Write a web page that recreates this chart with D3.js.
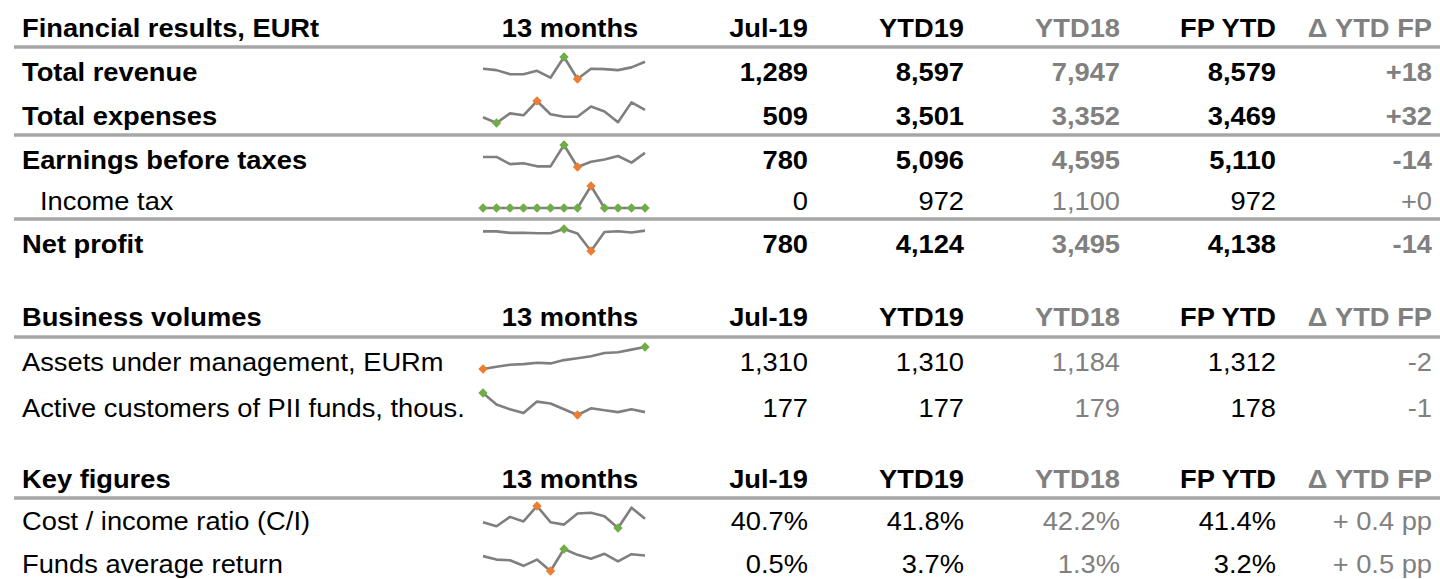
<!DOCTYPE html>
<html>
<head>
<meta charset="utf-8">
<script src="https://cdn.jsdelivr.net/npm/d3@7"></script>
<style>
  body { margin: 0; background: #fff; }
  svg text { font-family: "Liberation Sans", Arial, sans-serif; }
</style>
</head>
<body>
<div id="chart"></div>
<script>
// ===== data =====
var months = ["Jul-18","Aug-18","Sep-18","Oct-18","Nov-18","Dec-18","Jan-19","Feb-19","Mar-19","Apr-19","May-19","Jun-19","Jul-19"]

var sectionTitles = ["Financial results, EURt", "Business volumes", "Key figures"]
var columnHeads = ["Jul-19", "YTD19", "YTD18", "FP YTD", "\u0394 YTD FP"]
var sparkHead = "13 months"

var rowLabels = ["Total revenue", "Total expenses", "Earnings before taxes", "Income tax", "Net profit",
                 "Assets under management, EURm", "Active customers of PII funds, thous.",
                 "Cost / income ratio (C/I)", "Funds average return"]
var rowSection = [0, 0, 0, 0, 0, 1, 1, 2, 2]
var rowKind = ["total", "total", "total", "sub", "total", "item", "item", "item", "item"]
var rowUnit = ["num", "num", "num", "num", "num", "num", "num", "pct", "pct"]
var higherIsBetter = [true, false, true, false, true, true, true, false, true]

var jul19 = [1289, 509, 780, 0, 780, 1310, 177, 40.7, 0.5]
var ytd19 = [8597, 3501, 5096, 972, 4124, 1310, 177, 41.8, 3.7]
var ytd18 = [7947, 3352, 4595, 1100, 3495, 1184, 179, 42.2, 1.3]
var fpYtd = [8579, 3469, 5110, 972, 4138, 1312, 178, 41.4, 3.2]
var deltaFp = [18, 32, -14, 0, -14, -2, -1, 0.4, 0.5]

// 13 months, Jul-18 .. Jul-19
var revenueM  = [1216, 1201, 1158, 1158, 1194, 1121, 1340, 1107, 1216, 1212, 1201, 1230, 1289]
var expensesM = [482, 461, 496, 489, 541, 493, 484, 484, 521, 503, 464, 536, 509]
var ebtM      = [737, 737, 661, 671, 638, 638, 863, 631, 687, 710, 747, 677, 780]
var taxM      = [0, 0, 0, 0, 0, 0, 0, 0, 972, 0, 0, 0, 0]
var netM      = [737, 737, 661, 671, 638, 638, 863, 631, -285, 710, 747, 677, 780]
var aumM      = [1184, 1197, 1208, 1212, 1220, 1216, 1235, 1246, 1257, 1276, 1280, 1295, 1310]
var custM     = [179.0, 177.8, 177.3, 176.9, 178.1, 177.9, 177.3, 176.7, 177.4, 177.2, 177.0, 177.3, 177.0]
var ciM       = [39.3, 37.6, 41.5, 39.6, 46.0, 39.3, 38.3, 42.9, 43.2, 41.8, 36.9, 45.3, 40.7]
var returnM   = [0.45, 0.18, 0.13, -0.3, 0.18, -0.7, 1.0, 0.55, 0.25, 0.63, 0.05, 0.6, 0.5]
var sparkData = [revenueM, expensesM, ebtM, taxM, netM, aumM, custM, ciM, returnM]

// ===== layout =====
var width = 1440, height = 579
var headBaseline = [37, 326, 488]
var rowBaseline = [81, 125, 169, 210, 253, 371, 417, 530, 573]
var ruleY = [47, 135, 219, 337, 498]
var fontSize = 26, stretch = 1.05
var black = "#000", grey = "#808080", ruleColor = "#a6a6a6"
var green = "#70ad47", orange = "#ed7d31", lineColor = "#7f7f7f"

var loc = d3.formatLocale({decimal: ".", thousands: ",", grouping: [3], currency: ["", ""], minus: "-"})
var fmtNum = loc.format(",")
var fmtDelta = loc.format("+d")
var fmtPct = function(v){ return loc.format(".1f")(v) + "%" }
var fmtPp = function(v){ return (v < 0 ? "- " : "+ ") + loc.format(".1f")(Math.abs(v)) + " pp" }

var colX = d3.scalePoint().domain(columnHeads).range([808, 1432])
var colColor = [black, black, grey, black, grey]
var xSpark = d3.scaleLinear().domain([0, months.length - 1]).range([483, 645])

var svg = d3.select("#chart")
    .append("svg")
    .attr("width", width)
    .attr("height", height)

svg.append("rect").attr("width", width).attr("height", height).attr("fill", "#fff")

function addText(x, y, str, opts){
    svg.append("text")
        .attr("transform", "translate(" + x + "," + y + ") scale(" + stretch + ",1)")
        .attr("text-anchor", opts.anchor || "start")
        .attr("font-size", fontSize + "px")
        .attr("font-weight", opts.bold ? "bold" : "normal")
        .attr("fill", opts.color || black)
        .text(str)
}

// section headers
sectionTitles.forEach(function(t, s){
    var y = headBaseline[s]
    addText(22, y, t, {bold: true})
    addText(570, y, sparkHead, {bold: true, anchor: "middle"})
    columnHeads.forEach(function(c, i){
        addText(colX(c), y, c, {bold: true, anchor: "end", color: colColor[i]})
    })
})

// rules
svg.selectAll("line.rule")
    .data(ruleY)
    .enter()
    .append("line")
    .attr("class", "rule")
    .attr("x1", 14).attr("x2", width)
    .attr("y1", function(d){ return d }).attr("y2", function(d){ return d })
    .attr("stroke", ruleColor)
    .attr("stroke-width", 3.5)

// rows
rowLabels.forEach(function(label, r){
    var y = rowBaseline[r]
    var bold = rowKind[r] == "total"
    addText(rowKind[r] == "sub" ? 40 : 22, y, label, {bold: bold})

    var pct = rowUnit[r] == "pct"
    var vals = [jul19[r], ytd19[r], ytd18[r], fpYtd[r]].map(function(v){ return pct ? fmtPct(v) : fmtNum(v) })
    vals.push(pct ? fmtPp(deltaFp[r]) : fmtDelta(deltaFp[r]))
    vals.forEach(function(v, i){
        addText(colX(columnHeads[i]), y, v, {bold: bold, anchor: "end", color: colColor[i]})
    })

    // sparkline
    var data = sparkData[r]
    var ext = d3.extent(data)
    var ySpark = d3.scaleLinear().domain(ext).range([y - 2, y - 24])
    var line = d3.line()
        .x(function(d, i){ return xSpark(i) })
        .y(function(d){ return ySpark(d) })

    svg.append("path")
        .datum(data)
        .attr("d", line)
        .attr("fill", "none")
        .attr("stroke", lineColor)
        .attr("stroke-width", 2.6)
        .attr("stroke-linejoin", "round")

    var marks = []
    data.forEach(function(v, i){
        if (v == ext[1]) marks.push({i: i, v: v, c: higherIsBetter[r] ? green : orange})
        else if (v == ext[0]) marks.push({i: i, v: v, c: higherIsBetter[r] ? orange : green})
    })
    svg.selectAll(null)
        .data(marks)
        .enter()
        .append("path")
        .attr("d", d3.symbol().type(d3.symbolSquare).size(44))
        .attr("transform", function(d){ return "translate(" + xSpark(d.i) + "," + ySpark(d.v) + ") rotate(45)" })
        .attr("fill", function(d){ return d.c })
})
</script>
</body>
</html>
